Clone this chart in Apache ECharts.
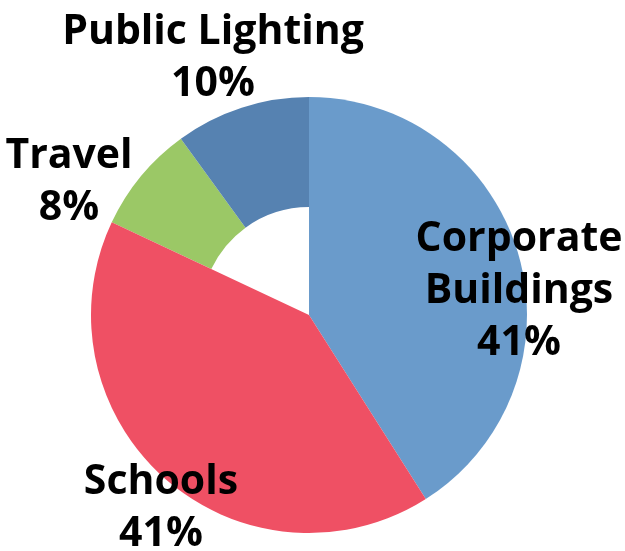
<!DOCTYPE html>
<html>
<head>
<meta charset="utf-8">
<script src="https://cdn.jsdelivr.net/npm/echarts@6/dist/echarts.min.js"></script>
<style>
  html, body { margin: 0; padding: 0; background: #fff; }
  #chart { width: 625px; height: 551px; }
</style>
</head>
<body>
<div id="chart"></div>
<script>
const categories = ['Corporate\nBuildings', 'Schools', 'Travel', 'Public Lighting'];
const shares = [41, 41, 8, 10];
const colors = ['#6a9bcb', '#ef5064', '#9bc866', '#5682b1'];
// slices drawn full to the centre; the others leave a hole
const solid = [true, true, false, false];

// label block centres (x, y) in px
const labelPos = [[519, 291], [161, 508], [69, 182], [213, 58]];

const chart = echarts.init(document.getElementById('chart'));

const makeData = (wantSolid) => categories.map((name, i) => ({
  name: name,
  value: shares[i],
  itemStyle: { color: solid[i] === wantSolid ? colors[i] : 'rgba(0,0,0,0)' }
}));

const option = {
  backgroundColor: '#fff',
  animation: false,
  series: [
    {
      type: 'pie',
      center: [309, 315],
      radius: [108, 218],
      startAngle: 90,
      clockwise: true,
      silent: true,
      label: { show: false },
      labelLine: { show: false },
      data: makeData(false)
    },
    {
      type: 'pie',
      center: [309, 315],
      radius: [0, 218],
      startAngle: 90,
      clockwise: true,
      silent: true,
      label: {
        show: true,
        position: 'inside',
        formatter: '{b}\n{c}%',
        color: '#000',
        fontFamily: 'Open Sans',
        fontWeight: 'bold',
        fontSize: 41,
        lineHeight: 52,
        align: 'center'
      },
      labelLine: { show: false },
      labelLayout: function (params) {
        const p = labelPos[params.dataIndex];
        return { x: p[0], y: p[1], align: 'center', verticalAlign: 'middle', hideOverlap: false };
      },
      data: makeData(true)
    }
  ]
};

chart.setOption(option);
</script>
</body>
</html>
